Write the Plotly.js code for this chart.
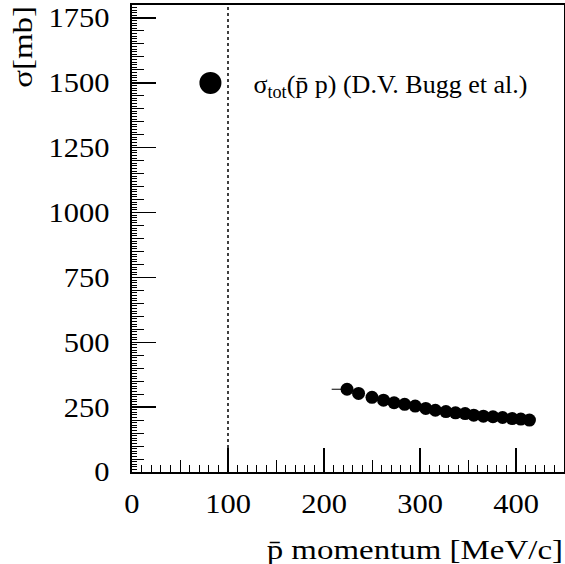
<!DOCTYPE html>
<html>
<head>
<meta charset="utf-8">
<script src="https://cdn.plot.ly/plotly-3.0.1.min.js"></script>
<style>html,body{margin:0;padding:0;background:#fff;}#chart{width:565px;height:564px;}</style>
</head>
<body>
<div id="chart"></div>
<script>
// Antiproton momentum [MeV/c]
const momentum = [224, 236, 250, 262, 273, 284, 295, 306, 316, 327, 337, 347, 356, 366, 376, 386, 396, 405, 414];
// Total p̄p cross section [mb]
const sigmaTot = [319, 303, 288, 277, 267, 261, 254, 245, 238, 233, 228, 225, 219, 215, 213, 210, 206, 204, 200];
// horizontal error (left side) visible on first point only
const momentumErrMinus = [16, 0, 0, 0, 0, 0, 0, 0, 0, 0, 0, 0, 0, 0, 0, 0, 0, 0, 0];
const thresholdMomentum = [100];
const xTickVals = [0, 100, 200, 300, 400];
const yTickVals = [0, 250, 500, 750, 1000, 1250, 1500, 1750];
const legendLabel = 'σ<sub>tot</sub>(p̄ p) (D.V. Bugg et al.)';

const serif = '"Liberation Serif", "Times New Roman", serif';

const traces = [
  {
    type: 'scatter', mode: 'markers',
    x: momentum, y: sigmaTot,
    marker: {color: '#000', size: 13, symbol: 'circle'},
    error_x: {type: 'data', symmetric: false, array: momentum.map(() => 0), arrayminus: momentumErrMinus, color: '#000', thickness: 1, width: 0},
    showlegend: false, hoverinfo: 'x+y'
  },
  {
    type: 'scatter', mode: 'markers',
    x: [null], y: [null],
    xaxis: 'x2', yaxis: 'y2',
    name: legendLabel,
    marker: {color: '#000', size: 22, symbol: 'circle'},
    showlegend: true
  }
];

const layout = {
  width: 565, height: 564,
  margin: {l: 132, r: 1, t: 5, b: 92, pad: 0},
  paper_bgcolor: '#fff', plot_bgcolor: '#fff',
  font: {family: serif, color: '#000', size: 27},
  showlegend: true,
  legend: {
    x: 0.082, xanchor: 'left', y: 0.833, yanchor: 'middle',
    bgcolor: 'rgba(0,0,0,0)', borderwidth: 0,
    font: {family: serif, size: 26, color: '#000'},
    itemwidth: 76
  },
  xaxis: {
    range: [0, 450], tickvals: xTickVals, ticktext: xTickVals.map(String),
    ticks: 'inside', ticklen: 24, tickwidth: 1.5, tickcolor: '#000',
    minor: {dtick: 10, tick0: 0, ticks: 'inside', ticklen: 7, tickwidth: 1, tickcolor: '#000', showgrid: false},
    showline: true, linecolor: '#000', linewidth: 2, mirror: true,
    showgrid: false, zeroline: false,
    ticklabelstandoff: 7,
    tickfont: {family: serif, size: 27, color: '#000'},
    title: {text: 'p̄ momentum [MeV/c]', font: {family: serif, size: 27, color: '#000'}, standoff: 0}
  },
  yaxis: {
    range: [0, 1800], tickvals: yTickVals, ticktext: yTickVals.map(String),
    ticks: 'inside', ticklen: 24, tickwidth: 1.5, tickcolor: '#000',
    minor: {dtick: 50, tick0: 0, ticks: 'inside', ticklen: 12, tickwidth: 1, tickcolor: '#000', showgrid: false},
    showline: true, linecolor: '#000', linewidth: 2, mirror: true,
    showgrid: false, zeroline: false,
    ticklabelstandoff: 15,
    tickfont: {family: serif, size: 27, color: '#000'},
    title: {text: 'σ[mb]', font: {family: serif, size: 27, color: '#000'}, standoff: 0}
  },
  xaxis2: {
    overlaying: 'x', anchor: 'y2', range: [0, 450], dtick: 50, tick0: 0,
    ticks: 'inside', ticklen: 12, tickwidth: 1, tickcolor: '#000',
    showticklabels: false, showline: false, showgrid: false, zeroline: false, side: 'bottom'
  },
  yaxis2: {
    overlaying: 'y', anchor: 'x2', range: [0, 1800], dtick: 10, tick0: 0,
    ticks: 'inside', ticklen: 5, tickwidth: 1, tickcolor: '#000',
    showticklabels: false, showline: false, showgrid: false, zeroline: false, side: 'left'
  },
  shapes: thresholdMomentum.map(v => ({
    type: 'line', xref: 'x', yref: 'paper', x0: v, x1: v, y0: 0, y1: 1,
    line: {color: '#000', width: 1.5, dash: 'dot'}
  }))
};

// widen a text along its own direction, keeping one anchor point fixed
function stretch(el, s, anchor) {
  const b = el.getBBox();
  const ax = anchor === 'end' ? b.x + b.width : anchor === 'start' ? b.x : b.x + b.width / 2;
  const t = el.getAttribute('transform') || '';
  el.setAttribute('transform', `${t} translate(${ax},0) scale(${s},1) translate(${-ax},0)`);
}

Plotly.newPlot('chart', traces, layout, {displayModeBar: false, staticPlot: true}).then(gd => {
  // x title: right-aligned under the axis end
  const xt = gd.querySelector('.g-xtitle text');
  if (xt) {
    xt.setAttribute('text-anchor', 'end');
    xt.setAttribute('x', 563);
    xt.setAttribute('y', 553);
    xt.removeAttribute('transform');
    stretch(xt, 1.22, 'end');
  }
  // y title: rotated, at the top of the axis
  const yt = gd.querySelector('.g-ytitle text');
  if (yt) {
    yt.setAttribute('text-anchor', 'end');
    yt.setAttribute('x', 32);
    yt.setAttribute('y', 6);
    yt.setAttribute('transform', 'rotate(-90,32,6)');
    stretch(yt, 1.22, 'end');
  }
  gd.querySelectorAll('.xaxislayer-above g.xtick text').forEach(el => stretch(el, 1.13, 'middle'));
  gd.querySelectorAll('.yaxislayer-above g.ytick text').forEach(el => stretch(el, 1.13, 'end'));
  // legend key marker drawn at its full size
  gd.querySelectorAll('.legend .legendpoints path.scatterpts').forEach(p => {
    const t = p.getAttribute('transform') || '';
    p.setAttribute('transform', t + ' scale(1.375)');
  });
});
</script>
</body>
</html>
